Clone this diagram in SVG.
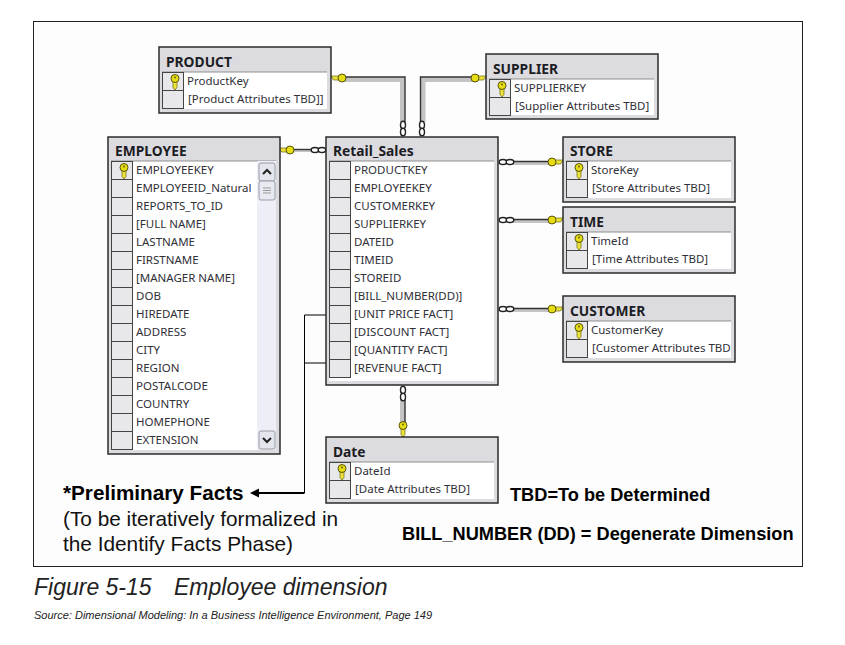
<svg xmlns="http://www.w3.org/2000/svg" width="845" height="645" viewBox="0 0 845 645">
<style>
.box{fill:#dcdce0;stroke:#2b2b2b;stroke-width:1.5}
.in{fill:#fff}
.sep{stroke:#8f8f8f;stroke-width:1;fill:none}
.cell{fill:#e8e8ea;stroke:#444;stroke-width:1}
.t{font-family:"Noto Sans","Liberation Sans",sans-serif;font-size:11.5px;fill:#303038}
.h{font-family:"Noto Sans","Liberation Sans",sans-serif;font-size:13.800px;font-weight:bold;fill:#1c1c24}
.b{font-family:"Liberation Sans",Arial,sans-serif;font-size:18.200px;font-weight:bold;fill:#000}
.n{font-family:"Liberation Sans",Arial,sans-serif;font-size:20.800px;fill:#111}
.p{fill:none;stroke:#c4c4c4;stroke-width:5}
.pd{fill:none;stroke:#333;stroke-width:1.4}
.l{fill:none;stroke:#000;stroke-width:1}
.ring{fill:#fff;stroke:#222;stroke-width:1.4}
.kd{fill:#e6dc14;stroke:#4a4400;stroke-width:.9}
.ke{fill:#ece23a;stroke:#6a6410;stroke-width:.7}
</style>
<defs>
<g id="key"><path d="M-2 1.500H2V7.500L0 10-2 7.500Z" class="ke"/><circle cx="0" cy="-1.500" r="4" class="kd"/><circle cx="0" cy="-2.500" r="1" fill="#6a6410"/></g>
<g id="keyr"><path d="M2 -2H11L8.500 2H2Z" class="ke"/><circle cx="0" cy="0" r="4" class="kd"/></g>
<g id="keyl"><path d="M-2 -2H-11L-8.500 2H-2Z" class="ke"/><circle cx="0" cy="0" r="4" class="kd"/></g>
<g id="rh"><ellipse cx="4" cy="0" rx="3.800" ry="2.500" class="ring"/><ellipse cx="11" cy="0" rx="3.800" ry="2.500" class="ring"/></g>
<g id="rv"><ellipse cx="0" cy="4" rx="2.500" ry="3.800" class="ring"/><ellipse cx="0" cy="11" rx="2.500" ry="3.800" class="ring"/></g>
</defs>
<rect width="845" height="645" fill="#fff"/>
<rect x="33.500" y="21.500" width="769" height="545" fill="#fdfdfd" stroke="#222" stroke-width="1"/>

<g id="connectors">
<path class="p" d="M345 79.500H402.500V122"/><path class="pd" d="M345 77H405V122"/>
<path class="p" d="M423 122V79.500H474"/><path class="pd" d="M420.500 122V77H474"/>
<path class="p" d="M294 150.500H312" style="stroke-width:3"/><path class="pd" d="M294 149.500H312"/>
<path class="p" d="M514 163H550" style="stroke-width:4"/><path class="pd" d="M514 161.500H550"/>
<path class="p" d="M514 221H550" style="stroke-width:4"/><path class="pd" d="M514 219.500H550"/>
<path class="p" d="M514 310H550" style="stroke-width:4"/><path class="pd" d="M514 308.500H550"/>
<path class="p" d="M402.500 400V425"/><path class="pd" d="M405 400V425"/>
<use href="#keyl" x="342" y="78"/>
<use href="#keyr" x="475" y="78"/>
<use href="#keyl" x="290" y="150"/>
<use href="#keyr" x="552" y="162"/>
<use href="#keyr" x="552" y="220"/>
<use href="#keyr" x="552" y="309"/>
<use href="#key" x="403" y="427"/>
<use href="#rv" x="403" y="121"/>
<use href="#rv" x="422" y="121"/>
<use href="#rh" x="311" y="150"/>
<use href="#rh" x="499" y="162"/>
<use href="#rh" x="499" y="220"/>
<use href="#rh" x="499" y="309"/>
<use href="#rv" x="403" y="386"/>
<path class="l" d="M345 315H304.500V493M345 363H304.500"/>
<path d="M304.500 493H258" fill="none" stroke="#000" stroke-width="2"/>
<path d="M250 493L259 488.500V497.500Z" fill="#000"/>
</g>

<g id="product">
<rect class="box" x="159" y="47" width="172" height="66"/><text class="h" x="166" y="67">PRODUCT</text>
<rect class="in" x="162" y="72" width="165" height="37"/><path class="sep" d="M162 72H327"/>
<rect class="cell" x="162.500" y="72.500" width="21" height="18"/><rect class="cell" x="162.500" y="90.500" width="21" height="18"/>
<use href="#key" x="175" y="80"/>
<text class="t" x="187" y="85">ProductKey</text><text class="t" x="188" y="103">[Product Attributes TBD]]</text>
</g>

<g id="supplier">
<rect class="box" x="486" y="54" width="172" height="65"/><text class="h" x="493" y="74">SUPPLIER</text>
<rect class="in" x="489" y="79" width="165" height="36"/><path class="sep" d="M489 79H654"/>
<rect class="cell" x="489.500" y="79.500" width="21" height="18"/><rect class="cell" x="489.500" y="97.500" width="21" height="18"/>
<use href="#key" x="502" y="87"/>
<text class="t" x="514" y="92">SUPPLIERKEY</text><text class="t" x="515" y="110">[Supplier Attributes TBD]</text>
</g>

<g id="employee">
<rect class="box" x="108" y="137" width="172" height="317"/><text class="h" x="115" y="156">EMPLOYEE</text>
<rect class="in" x="111" y="161" width="165" height="289"/><path class="sep" d="M111 161H276"/>
<rect x="257" y="161" width="19" height="289" fill="#edeef6"/>
<rect x="259" y="163" width="16" height="18" rx="2" fill="#e4e6ee" stroke="#9a9aa6"/>
<path d="M263 174L267 170 271 174" fill="none" stroke="#222" stroke-width="2"/>
<rect x="259" y="181" width="16" height="19" rx="2" fill="#e8eaf2" stroke="#9a9aa6"/>
<path d="M263 188H271M263 190.500H271M263 193H271" stroke="#999" stroke-width="1"/>
<rect x="259" y="431" width="16" height="18" rx="2" fill="#e4e6ee" stroke="#9a9aa6"/>
<path d="M263 438L267 442 271 438" fill="none" stroke="#222" stroke-width="2"/>
<rect class="cell" x="111.500" y="161.500" width="21" height="18"/><rect class="cell" x="111.500" y="179.500" width="21" height="18"/><rect class="cell" x="111.500" y="197.500" width="21" height="18"/><rect class="cell" x="111.500" y="215.500" width="21" height="18"/><rect class="cell" x="111.500" y="233.500" width="21" height="18"/><rect class="cell" x="111.500" y="251.500" width="21" height="18"/><rect class="cell" x="111.500" y="269.500" width="21" height="18"/><rect class="cell" x="111.500" y="287.500" width="21" height="18"/><rect class="cell" x="111.500" y="305.500" width="21" height="18"/><rect class="cell" x="111.500" y="323.500" width="21" height="18"/><rect class="cell" x="111.500" y="341.500" width="21" height="18"/><rect class="cell" x="111.500" y="359.500" width="21" height="18"/><rect class="cell" x="111.500" y="377.500" width="21" height="18"/><rect class="cell" x="111.500" y="395.500" width="21" height="18"/><rect class="cell" x="111.500" y="413.500" width="21" height="18"/><rect class="cell" x="111.500" y="431.500" width="21" height="18"/>
<use href="#key" x="124" y="169"/>
<text class="t" x="136" y="174">EMPLOYEEKEY</text><text class="t" x="136" y="192">EMPLOYEEID_Natural</text><text class="t" x="136" y="210">REPORTS_TO_ID</text><text class="t" x="136" y="228">[FULL NAME]</text><text class="t" x="136" y="246">LASTNAME</text><text class="t" x="136" y="264">FIRSTNAME</text><text class="t" x="136" y="282">[MANAGER NAME]</text><text class="t" x="136" y="300">DOB</text><text class="t" x="136" y="318">HIREDATE</text><text class="t" x="136" y="336">ADDRESS</text><text class="t" x="136" y="354">CITY</text><text class="t" x="136" y="372">REGION</text><text class="t" x="136" y="390">POSTALCODE</text><text class="t" x="136" y="408">COUNTRY</text><text class="t" x="136" y="426">HOMEPHONE</text><text class="t" x="136" y="444">EXTENSION</text>
</g>

<g id="retail_sales">
<rect class="box" x="326" y="137" width="172" height="248"/><text class="h" x="333" y="156">Retail_Sales</text>
<rect class="in" x="329" y="161" width="165" height="220"/><path class="sep" d="M329 161H494"/>
<rect class="cell" x="329.500" y="161.500" width="21" height="18"/><rect class="cell" x="329.500" y="179.500" width="21" height="18"/><rect class="cell" x="329.500" y="197.500" width="21" height="18"/><rect class="cell" x="329.500" y="215.500" width="21" height="18"/><rect class="cell" x="329.500" y="233.500" width="21" height="18"/><rect class="cell" x="329.500" y="251.500" width="21" height="18"/><rect class="cell" x="329.500" y="269.500" width="21" height="18"/><rect class="cell" x="329.500" y="287.500" width="21" height="18"/><rect class="cell" x="329.500" y="305.500" width="21" height="18"/><rect class="cell" x="329.500" y="323.500" width="21" height="18"/><rect class="cell" x="329.500" y="341.500" width="21" height="18"/><rect class="cell" x="329.500" y="359.500" width="21" height="18"/>
<text class="t" x="354" y="174">PRODUCTKEY</text><text class="t" x="354" y="192">EMPLOYEEKEY</text><text class="t" x="354" y="210">CUSTOMERKEY</text><text class="t" x="354" y="228">SUPPLIERKEY</text><text class="t" x="354" y="246">DATEID</text><text class="t" x="354" y="264">TIMEID</text><text class="t" x="354" y="282">STOREID</text><text class="t" x="354" y="300">[BILL_NUMBER(DD)]</text><text class="t" x="354" y="318">[UNIT PRICE FACT]</text><text class="t" x="354" y="336">[DISCOUNT FACT]</text><text class="t" x="354" y="354">[QUANTITY FACT]</text><text class="t" x="354" y="372">[REVENUE FACT]</text>
</g>

<g id="store">
<rect class="box" x="563" y="137" width="172" height="65"/><text class="h" x="570" y="156">STORE</text>
<rect class="in" x="566" y="161" width="165" height="37"/><path class="sep" d="M566 161H731"/>
<rect class="cell" x="566.500" y="161.500" width="21" height="18"/><rect class="cell" x="566.500" y="179.500" width="21" height="18"/>
<use href="#key" x="579" y="169"/>
<text class="t" x="591" y="174">StoreKey</text><text class="t" x="592" y="192">[Store Attributes TBD]</text>
</g>

<g id="time">
<rect class="box" x="563" y="207" width="172" height="66"/><text class="h" x="570" y="227">TIME</text>
<rect class="in" x="566" y="232" width="165" height="37"/><path class="sep" d="M566 232H731"/>
<rect class="cell" x="566.500" y="232.500" width="21" height="18"/><rect class="cell" x="566.500" y="250.500" width="21" height="18"/>
<use href="#key" x="579" y="240"/>
<text class="t" x="591" y="245">TimeId</text><text class="t" x="592" y="263">[Time Attributes TBD]</text>
</g>

<g id="customer">
<rect class="box" x="563" y="296" width="172" height="66"/><text class="h" x="570" y="316">CUSTOMER</text>
<rect class="in" x="566" y="321" width="165" height="37"/><path class="sep" d="M566 321H731"/>
<rect class="cell" x="566.500" y="321.500" width="21" height="18"/><rect class="cell" x="566.500" y="339.500" width="21" height="18"/>
<use href="#key" x="579" y="329"/>
<text class="t" x="591" y="334">CustomerKey</text><text class="t" x="592" y="352">[Customer Attributes TBD</text>
</g>

<g id="date">
<rect class="box" x="326" y="437" width="172" height="66"/><text class="h" x="333" y="457">Date</text>
<rect class="in" x="329" y="462" width="165" height="37"/><path class="sep" d="M329 462H494"/>
<rect class="cell" x="329.500" y="462.500" width="21" height="18"/><rect class="cell" x="329.500" y="480.500" width="21" height="18"/>
<use href="#key" x="342" y="470"/>
<text class="t" x="354" y="475">DateId</text><text class="t" x="355" y="493">[Date Attributes TBD]</text>
</g>

<text x="63" y="500" font-family="Liberation Sans, Arial, sans-serif" font-size="20.700" font-weight="bold" fill="#000">*Preliminary Facts</text>
<text class="n" x="63" y="526">(To be iteratively formalized in</text>
<text class="n" x="63" y="551">the Identify Facts Phase)</text>
<text class="b" x="510" y="501">TBD=To be Determined</text>
<text class="b" x="402" y="540">BILL_NUMBER (DD) = Degenerate Dimension</text>
<text x="34" y="595" font-family="Liberation Sans, Arial, sans-serif" font-size="23" font-style="italic" fill="#222">Figure 5-15</text>
<text x="174" y="595" font-family="Liberation Sans, Arial, sans-serif" font-size="23" font-style="italic" fill="#222">Employee dimension</text>
<text x="34" y="619" font-family="Liberation Sans, Arial, sans-serif" font-size="11" font-style="italic" fill="#222">Source: Dimensional Modeling: In a Business Intelligence Environment, Page 149</text>
</svg>
